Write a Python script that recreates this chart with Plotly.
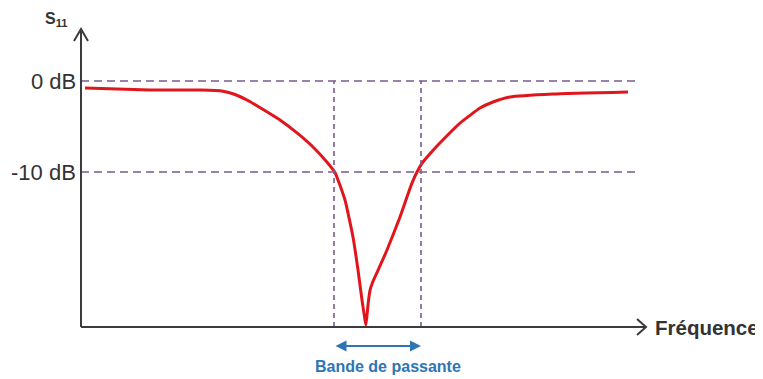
import plotly.graph_objects as go

# Data: frequency (arbitrary units) and S11 (dB)
freq = [4, 69, 120, 142, 154, 166, 183, 199, 216, 232, 245, 254, 264, 272, 277, 281, 284, 285,
        287, 289, 292, 297, 306, 319, 330, 336, 342, 349, 356, 367, 379, 399, 412, 429, 472, 547]
s11_db = [-0.77, -1.0, -1.0, -1.12, -1.48, -2.09, -3.19, -4.29, -5.71, -7.25, -8.79, -10.05, -13.08,
          -17.14, -20.77, -24.07, -26.26, -26.81,
          -24.6, -23.0, -22.0, -20.8, -18.57, -14.95, -11.5, -10.0, -8.9, -8.0, -7.15, -5.9, -4.62,
          -2.97, -2.31, -1.76, -1.43, -1.21]
band_edges = [253, 340]
ref_levels = [0, -10]
ref_labels = ["0 dB", "-10 dB"]

PX_PER_DB = 9.1
BODY = 8  # default page margin of the html body

def py(p):  # page row -> dB
    return -(p - 81) / PX_PER_DB

def px(p):  # page column -> frequency units
    return p - 81

X_RANGE = [px(BODY), px(763)]
Y_RANGE = [py(379), py(BODY)]
Y_AX = py(327)

fig = go.Figure()
fig.add_trace(go.Scatter(x=freq, y=s11_db, mode="lines",
                         line=dict(color="#e0161c", width=3, shape="spline", smoothing=0.4),
                         hoverinfo="skip", showlegend=False))

dash_col = "#7a5a8e"
shapes = []
for lv in ref_levels:
    shapes.append(dict(type="line", xref="x", yref="y", x0=0, x1=559, y0=lv, y1=lv,
                       line=dict(color=dash_col, width=1.6, dash="8px,5px")))
for xe in band_edges:
    shapes.append(dict(type="line", xref="x", yref="y", x0=xe, x1=xe, y0=Y_AX, y1=ref_levels[0],
                       line=dict(color=dash_col, width=1.6, dash="5px,4px")))
axis_col = "#3c3c3c"
shapes.append(dict(type="line", x0=0, x1=0, y0=Y_AX, y1=py(29), line=dict(color=axis_col, width=2)))
shapes.append(dict(type="path", path=f"M -7,{py(41)} L 0,{py(29)} L 7,{py(41)}",
                   line=dict(color=axis_col, width=2)))
shapes.append(dict(type="line", x0=0, x1=565, y0=Y_AX, y1=Y_AX, line=dict(color=axis_col, width=2)))
shapes.append(dict(type="path", path=f"M 556,{py(319)} L 565,{Y_AX} L 556,{py(335)}",
                   line=dict(color=axis_col, width=2)))

annotations = []
for lv, lab in zip(ref_levels, ref_labels):
    annotations.append(dict(x=-3, y=lv, xref="x", yref="y", text=lab, showarrow=False,
                            xanchor="right", yanchor="middle",
                            font=dict(family="Liberation Sans", size=22, color="#333333")))
annotations.append(dict(x=-25, y=py(19), text="<b>S<sub>11</sub></b>", showarrow=False,
                        xanchor="center", yanchor="middle",
                        font=dict(family="Liberation Sans", size=16, color="#333333")))
annotations.append(dict(x=572, y=Y_AX, text="<b>Fréquence</b>", showarrow=False,
                        xanchor="left", yanchor="middle",
                        font=dict(family="Liberation Sans", size=20.5, color="#333333")))
annotations.append(dict(x=(band_edges[0] + band_edges[1]) / 2 + 10, y=py(366), text="<b>Bande de passante</b>",
                        showarrow=False, xanchor="center", yanchor="middle",
                        font=dict(family="Liberation Sans", size=16, color="#2e75b6")))
annotations.append(dict(x=band_edges[1], y=py(346), ax=band_edges[0], ay=py(346),
                        xref="x", yref="y", axref="x", ayref="y", text="",
                        showarrow=True, arrowhead=2, startarrowhead=2, arrowside="end+start",
                        arrowsize=1, arrowwidth=2.2, arrowcolor="#2e75b6"))

fig.update_layout(
    width=763 - BODY, height=379 - BODY,
    margin=dict(l=0, r=0, t=0, b=0, pad=0),
    paper_bgcolor="white", plot_bgcolor="white",
    xaxis=dict(range=X_RANGE, visible=False, fixedrange=True),
    yaxis=dict(range=Y_RANGE, visible=False, fixedrange=True),
    shapes=shapes, annotations=annotations, showlegend=False,
)
fig.write_html("out.html", config={"displayModeBar": False})
